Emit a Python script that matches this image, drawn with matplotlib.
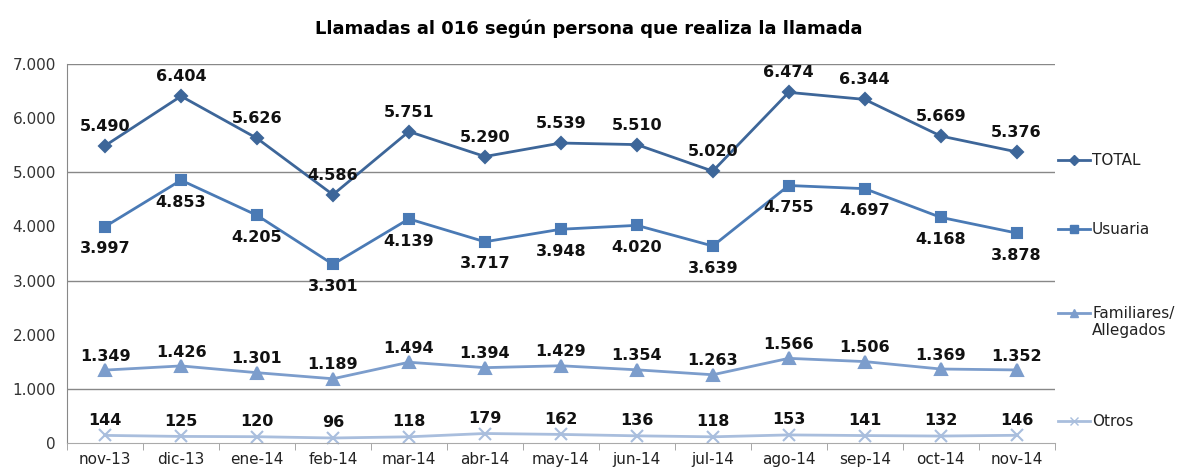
import numpy as np
import matplotlib
matplotlib.use("Agg")
from matplotlib import pyplot as plt
from matplotlib.lines import Line2D

months = ["nov-13", "dic-13", "ene-14", "feb-14", "mar-14", "abr-14", "may-14",
          "jun-14", "jul-14", "ago-14", "sep-14", "oct-14", "nov-14"]
total = [5490, 6404, 5626, 4586, 5751, 5290, 5539, 5510, 5020, 6474, 6344, 5669, 5376]
usuaria = [3997, 4853, 4205, 3301, 4139, 3717, 3948, 4020, 3639, 4755, 4697, 4168, 3878]
familiares = [1349, 1426, 1301, 1189, 1494, 1394, 1429, 1354, 1263, 1566, 1506, 1369, 1352]
otros = [144, 125, 120, 96, 118, 179, 162, 136, 118, 153, 141, 132, 146]

def fmt(v):
    return "{:,}".format(v).replace(",", ".")

fig = plt.figure(figsize=(11.77, 4.73), dpi=100)
ax = fig.add_axes([0.057, 0.063, 0.839, 0.802])

x = np.arange(len(months))
series = [
    ("TOTAL", total, "#3D6699", "D", 6, 14),
    ("Usuaria", usuaria, "#4A7AB5", "s", 7.5, -16),
    ("Familiares/\nAllegados", familiares, "#7C9DCC", "^", 8, 10),
    ("Otros", otros, "#A9BEDD", "x", 8, 11),
]

for name, vals, col, mk, ms, off in series:
    ax.plot(x, vals, color=col, marker=mk, markersize=ms, linewidth=2.0,
            markeredgecolor=col, markeredgewidth=1.5, clip_on=False)
    for xi, v in zip(x, vals):
        ax.annotate(fmt(v), (xi, v), textcoords="offset points", xytext=(0, off),
                    ha="center", va="center", fontsize=11.5, fontweight="bold",
                    color="#111111")

ax.set_xlim(-0.5, len(months) - 0.5)
ax.set_ylim(0, 7000)
ax.set_yticks(range(0, 7001, 1000))
ax.set_yticklabels([fmt(v) for v in range(0, 7001, 1000)], fontsize=11, color="#333333")
for g in [1000, 3000, 5000, 7000]:
    ax.axhline(g, color="#888888", linewidth=1, zorder=0)
ax.set_xticks(x)
ax.set_xticklabels(months, fontsize=11, color="#222222")
ax.set_xticks(np.arange(-0.5, len(months) - 0.4, 1), minor=True)
ax.tick_params(axis="x", which="major", length=0, pad=6)
ax.tick_params(axis="x", which="minor", length=5, color="#999999")
ax.tick_params(axis="y", length=0, pad=8)
ax.spines["top"].set_visible(False)
ax.spines["right"].set_visible(False)
ax.spines["left"].set_color("#888888")
ax.spines["bottom"].set_color("#AAAAAA")

fig.text(0.5, 0.94, "Llamadas al 016 según persona que realiza la llamada",
         ha="center", va="center", fontsize=13, fontweight="bold")

# legend on the right side
leg_y = [160, 229, 313, 421]
for (name, vals, col, mk, ms, off), yy in zip(series, leg_y):
    yf = 1 - yy / 473
    fig.add_artist(Line2D([1058 / 1177, 1074 / 1177, 1090 / 1177], [yf, yf, yf],
                          color=col, linewidth=2.0, marker=mk, markersize=ms * 0.8,
                          markevery=[1], markeredgecolor=col,
                          transform=fig.transFigure))
    parts = name.split("\n")
    fig.text(1092 / 1177, yf, parts[0], ha="left", va="center", fontsize=11,
             color="#222222")
    if len(parts) > 1:
        fig.text(1092 / 1177, yf - 17 / 473, parts[1], ha="left", va="center",
                 fontsize=11, color="#222222")

fig.savefig("out.png", dpi=100)
